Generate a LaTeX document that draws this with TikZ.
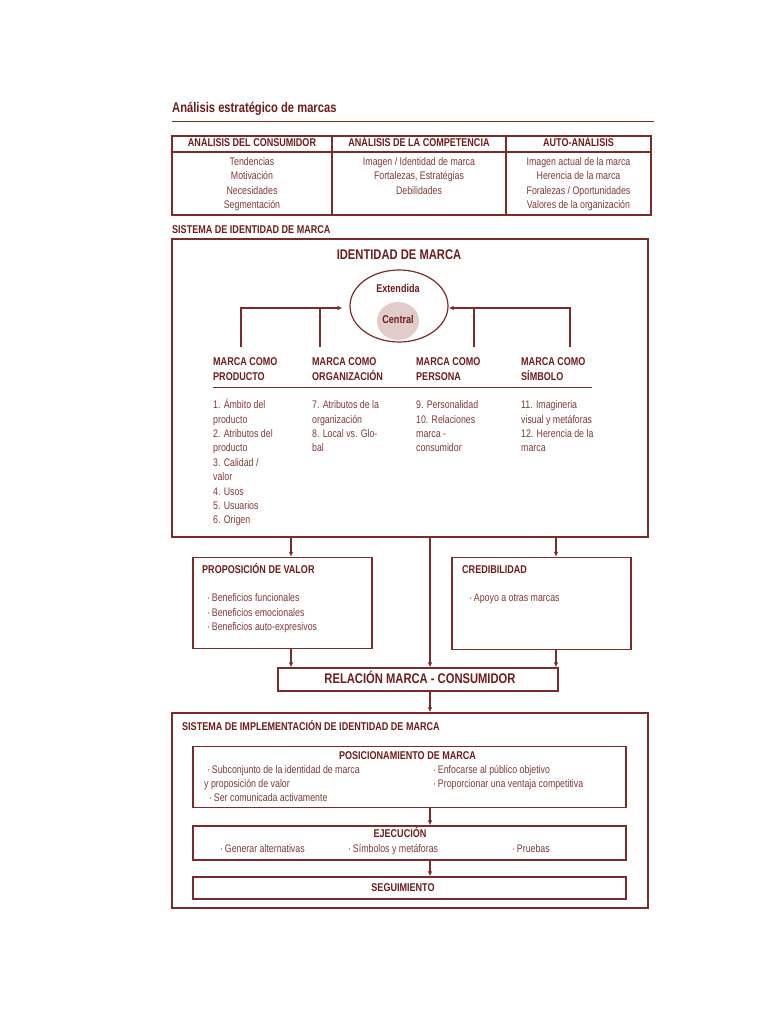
\documentclass[tikz,border=0pt]{standalone}
\usepackage{fontspec}
\setmainfont{Liberation Sans}[FakeStretch=0.8]
\usetikzlibrary{arrows.meta,shapes.geometric,calc}
\definecolor{maroon}{HTML}{6E1C1C}
\definecolor{bodyc}{HTML}{7E3B37}
\definecolor{linec}{HTML}{7A2C2A}
\definecolor{cfill}{HTML}{E2CBCB}
\newcommand\fbody{\fontsize{11}{13}\selectfont}
\newcommand\fhead{\fontsize{11.3}{13}\selectfont\bfseries}
\newcommand\fbig{\fontsize{14}{16}\selectfont\bfseries}
\begin{document}
\begin{tikzpicture}[x=1pt,y=-1pt,
  box/.style={draw=linec, line width=1.2pt, rectangle, inner sep=0pt},
  txt/.style={font=\fbody, text=bodyc, inner sep=0pt, anchor=mid west},
  hd/.style={font=\fhead, text=maroon, inner sep=0pt, anchor=mid},
  big/.style={font=\fbig, text=maroon, inner sep=0pt, anchor=mid},
  ln/.style={draw=linec, line width=1.2pt},
  arr/.style={draw=linec, line width=1.2pt, -{Latex[length=5pt,width=4.5pt]}}]
\useasboundingbox[fill=white] (0,0) rectangle (768,1024);

% title
\node[big, anchor=mid west] (title) at (172,110) {Análisis estratégico de marcas};
\coordinate (u1) at (172,121.5);
\coordinate (u2) at (654,121.5);
\draw[ln, line width=1pt] (u1) -- (u2);

% analysis table
\node[box, minimum width=479pt, minimum height=79pt] (tab) at (411.5,175.5) {};
\coordinate (yh) at (0,152);
\coordinate (xd1) at (332,0);
\coordinate (xd2) at (506,0);
\draw[ln] (tab.west |- yh) -- (tab.east |- yh);
\draw[ln] (tab.north -| xd1) -- (tab.south -| xd1);
\draw[ln] (tab.north -| xd2) -- (tab.south -| xd2);
\node[hd] (t1) at (252,144) {ANÁLISIS DEL CONSUMIDOR};
\node[hd] (t2) at (419,144) {ANÁLISIS DE LA COMPETENCIA};
\node[hd] (t3) at (578.5,144) {AUTO-ANÁLISIS};
\foreach \t [count=\i] in {Tendencias, Motivación, Necesidades, Segmentación}
  \node[txt, anchor=mid] (ca\i) at (252,148.4+14.4*\i) {\t};
\foreach \t [count=\i] in {Imagen / Identidad de marca, {Fortalezas, Estratégias}, Debilidades}
  \node[txt, anchor=mid] (cb\i) at (419,148.4+14.4*\i) {\t};
\foreach \t [count=\i] in {Imagen actual de la marca, Herencia de la marca, Foralezas / Oportunidades, Valores de la organización}
  \node[txt, anchor=mid] (cc\i) at (578.5,148.4+14.4*\i) {\t};

% identity system
\node[hd, anchor=mid west] (sislab) at (172,231) {SISTEMA DE IDENTIDAD DE MARCA};
\node[box, minimum width=476pt, minimum height=298pt] (sis) at (410,388) {};
\node[big] (idt) at (399,257) {IDENTIDAD DE MARCA};
\node[ellipse, draw=linec, line width=1.2pt, minimum width=98pt, minimum height=72pt, inner sep=0pt] (ext) at (399,306) {};
\node[hd] (extl) at (398,290) {Extendida};
\node[ellipse, fill=cfill, minimum width=42pt, minimum height=38pt, inner sep=0pt] (cen) at (398,321) {};
\node[hd] (cenl) at (398,321) {Central};

\coordinate (ya) at (0,308);
\coordinate (v1) at (241,347);
\coordinate (v2) at (320,347);
\coordinate (v3) at (474,347);
\coordinate (v4) at (570,347);
\draw[arr, shorten >=7pt] (v1) |- (ext.west |- ya);
\draw[ln] (v2) -- (v2 |- ya);
\draw[arr] (v4) |- (ext.east |- ya);
\draw[ln] (v3) -- (v3 |- ya);

\foreach \x/\a/\b [count=\i] in {213/MARCA COMO/PRODUCTO, 312/MARCA COMO/ORGANIZACIÓN, 416/MARCA COMO/PERSONA, 521/MARCA COMO/SÍMBOLO} {
  \node[hd, anchor=mid west] (ha\i) at (\x,363) {\a};
  \node[hd, anchor=mid west] (hb\i) at (\x,377.5) {\b};
}
\coordinate (r1) at (213,387.5);
\coordinate (r2) at (592,387.5);
\draw[ln, line width=1pt] (r1) -- (r2);

\foreach \t [count=\i] in {1. Ámbito del, producto, 2. Atributos del, producto, 3. Calidad /, valor, 4. Usos, 5. Usuarios, 6. Origen}
  \node[txt] (la\i) at (213,391.6+14.4*\i) {\t};
\foreach \t [count=\i] in {7. Atributos de la, organización, 8. Local vs. Glo-, bal}
  \node[txt] (lb\i) at (312,391.6+14.4*\i) {\t};
\foreach \t [count=\i] in {9. Personalidad, 10. Relaciones, marca -, consumidor}
  \node[txt] (lc\i) at (416,391.6+14.4*\i) {\t};
\foreach \t [count=\i] in {11. Imagineria, visual y metáforas, 12. Herencia de la, marca}
  \node[txt] (ld\i) at (521,391.6+14.4*\i) {\t};

% value proposition & credibility
\node[box, minimum width=179pt, minimum height=91pt] (prop) at (282.5,603) {};
\node[box, minimum width=179pt, minimum height=92pt] (cred) at (541.5,603.5) {};
\node[hd, anchor=mid west] (propt) at (202,571) {PROPOSICIÓN DE VALOR};
\foreach \t [count=\i] in {Beneficios funcionales, Beneficios emocionales, Beneficios auto-expresivos}
  \node[txt] (pv\i) at (207,584.6+14.4*\i) {·\,\t};
\node[hd, anchor=mid west] (credt) at (462,571) {CREDIBILIDAD};
\node[txt] (cr1) at (469,599) {·\,Apoyo a otras marcas};

% relation
\node[box, minimum width=280pt, minimum height=23pt] (rel) at (418,679.5) {};
\node[big] (relt) at (420,681) {RELACIÓN MARCA - CONSUMIDOR};

\coordinate (xL) at (291,0);
\coordinate (xM) at (430,0);
\coordinate (xR) at (556,0);
\draw[arr] (sis.south -| xL) -- (prop.north -| xL);
\draw[arr] (sis.south -| xR) -- (cred.north -| xR);
\draw[arr] (sis.south -| xM) -- (rel.north -| xM);
\draw[arr] (prop.south -| xL) -- (rel.north -| xL);
\draw[arr] (cred.south -| xR) -- (rel.north -| xR);

% implementation
\node[box, minimum width=476pt, minimum height=195pt] (impl) at (410,810.5) {};
\draw[arr] (rel.south -| xM) -- (impl.north -| xM);
\node[hd, anchor=mid west] (impll) at (182,728) {SISTEMA DE IMPLEMENTACIÓN DE IDENTIDAD DE MARCA};

\node[box, minimum width=433pt, minimum height=61pt] (pos) at (409.5,777) {};
\node[hd] (post) at (407.5,757) {POSICIONAMIENTO DE MARCA};
\node[txt] (ps1) at (207,771) {·\,Subconjunto de la identidad de marca};
\node[txt] (ps2) at (204,785) {y proposición de valor};
\node[txt] (ps3) at (209,799) {·\,Ser comunicada activamente};
\node[txt] (ps4) at (433,771) {·\,Enfocarse al público objetivo};
\node[txt] (ps5) at (433,785) {·\,Proporcionar una ventaja competitiva};

\node[box, minimum width=433pt, minimum height=34pt] (eje) at (409.5,843) {};
\node[hd] (ejet) at (400,835) {EJECUCIÓN};
\node[txt] (ej1) at (220,849.5) {·\,Generar alternativas};
\node[txt] (ej2) at (348,849.5) {·\,Símbolos y metáforas};
\node[txt] (ej3) at (512,849.5) {·\,Pruebas};

\node[box, minimum width=433pt, minimum height=22pt] (seg) at (409.5,888) {};
\node[hd] (segt) at (403,889) {SEGUIMIENTO};

\draw[arr] (pos.south -| xM) -- (eje.north -| xM);
\draw[arr] (eje.south -| xM) -- (seg.north -| xM);
\end{tikzpicture}
\end{document}
